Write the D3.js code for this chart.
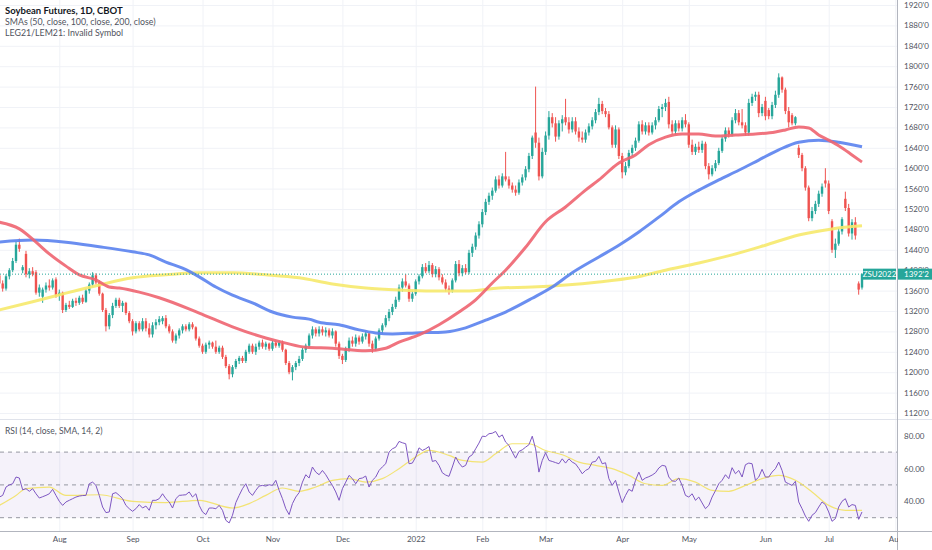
<!DOCTYPE html>
<html>
<head>
<meta charset="utf-8">
<script src="https://cdn.jsdelivr.net/npm/d3@7"></script>
<style>
  body { margin: 0; background: #fff; }
  svg { display: block; font-family: Lato, "Noto Sans", "DejaVu Sans", sans-serif; }
</style>
</head>
<body>
<svg width="932" height="550"></svg>
<script>
// Soybean Futures daily candles, SMA 50/100/200, RSI 14
// bar index 0 = first trading day of Aug 2021

var firstBar = -18;

var opens = [1390,1374,1364,1388,1400,1418,1450,1400,1432,1392,1398,1396,1356,1348,1362,1370,1366,1382,
  1350,1356,1322,1332,1328,1340,1336,1346,1338,1360,1372,1390,1376,1354,1322,1290,1312,1330,1342,1330,1336,1316,
  1300,1280,1296,1284,1300,1286,1274,1292,1298,1300,1306,1290,1280,1262,1272,1282,1290,1284,1294,1288,1266,
  1252,1240,1254,1258,1250,1240,1248,1230,1212,1196,1210,1222,1228,1222,1240,1252,1240,1250,1258,1250,1256,
  1246,1258,1252,1258,1244,1218,1200,1210,1218,1226,1244,1252,1272,1284,1276,1284,1278,1282,1272,1280,1256,
  1232,1224,1246,1262,1256,1268,1260,1270,1276,1256,1246,1266,1282,1292,1306,1318,1328,1342,1366,1378,1370,1344,
  1354,1378,1388,1406,1398,1410,1392,1402,1386,1376,1364,1360,1380,1412,1394,1404,1396,1434,1446,1468,
  1490,1514,1534,1546,1556,1578,1566,1584,1578,1566,1558,1552,1572,1582,1598,1624,1670,1650,1584,
  1632,1664,1700,1688,1662,1688,1700,1690,1676,1692,1672,1660,1656,1670,1682,1694,1710,1726,1712,1706,1680,1646,1676,1624,
  1592,1604,1630,1640,1654,1686,1672,1684,1670,1684,1694,1716,1720,1730,1686,1672,1688,1678,1694,1686,
  1646,1632,1642,1636,1648,1604,1588,1600,1610,1634,1658,1674,1666,1694,1708,1690,1684,1670,1728,1740,1744,
  1708,1732,1714,1702,1724,1744,1778,1754,1712,1704,1688,1640,1626,1600,1562,1502,1516,1530,1550,1576,
  1570,1496,1440,1452,1476,1540,1522,1472,1494,1374,1366];

var highs = [1395,1380,1392,1404,1424,1456,1462,1410,1438,1404,1406,1400,1372,1366,1376,1382,1384,1386,
  1362,1358,1336,1340,1344,1346,1350,1352,1364,1376,1396,1394,1380,1356,1326,1316,1336,1346,1346,1340,1338,1320,
  1304,1300,1300,1306,1306,1296,1298,1304,1310,1310,1312,1294,1284,1276,1286,1294,1294,1298,1298,1290,1270,
  1256,1258,1262,1260,1262,1252,1252,1234,1216,1214,1226,1232,1232,1244,1256,1256,1256,1262,1264,1260,1258,
  1262,1262,1262,1262,1246,1222,1214,1222,1232,1248,1256,1276,1290,1288,1290,1290,1288,1286,1286,1282,1260,
  1236,1250,1268,1270,1274,1272,1276,1280,1278,1262,1270,1286,1296,1312,1324,1334,1348,1372,1384,1392,1374,1360,
  1382,1392,1412,1414,1418,1414,1408,1406,1392,1382,1370,1384,1418,1420,1410,1412,1440,1452,1474,1496,
  1520,1540,1552,1562,1584,1586,1590,1632,1584,1572,1566,1578,1588,1604,1630,1664,1760,1660,1640,
  1672,1712,1708,1700,1694,1704,1736,1700,1700,1700,1680,1672,1676,1688,1700,1716,1738,1732,1718,1712,1684,1684,1680,1630,
  1612,1636,1646,1660,1692,1694,1690,1690,1690,1700,1722,1726,1736,1740,1694,1694,1694,1700,1706,1690,
  1656,1648,1652,1654,1652,1610,1606,1616,1640,1662,1680,1680,1700,1716,1714,1716,1690,1736,1746,1750,1750,
  1726,1740,1718,1730,1752,1786,1780,1758,1720,1708,1702,1646,1630,1604,1566,1524,1536,1556,1570,1600,
  1576,1500,1462,1482,1504,1554,1530,1500,1504,1378,1394];

var lows = [1370,1358,1360,1382,1396,1414,1436,1394,1386,1384,1388,1352,1348,1336,1356,1360,1362,1346,
  1340,1316,1318,1324,1326,1330,1332,1334,1336,1354,1368,1372,1350,1318,1280,1284,1306,1326,1326,1318,1312,1296,
  1272,1276,1280,1280,1280,1268,1268,1284,1292,1294,1286,1276,1258,1256,1266,1276,1280,1280,1284,1262,1248,
  1236,1236,1246,1246,1236,1236,1226,1208,1186,1190,1206,1216,1218,1218,1236,1236,1234,1244,1246,1244,1242,
  1242,1248,1248,1240,1214,1196,1184,1204,1212,1222,1238,1248,1266,1270,1270,1272,1270,1268,1266,1250,1226,
  1216,1220,1240,1250,1250,1254,1256,1264,1250,1238,1242,1262,1276,1288,1300,1312,1324,1338,1358,1366,1338,1338,
  1350,1372,1384,1394,1394,1386,1386,1380,1372,1358,1352,1356,1376,1388,1388,1392,1392,1426,1440,1462,
  1484,1508,1528,1538,1552,1560,1562,1574,1560,1552,1546,1548,1566,1576,1592,1618,1640,1576,1580,
  1626,1656,1680,1652,1656,1672,1684,1668,1670,1666,1652,1650,1650,1664,1676,1688,1704,1706,1700,1676,1640,1640,1618,1580,
  1586,1600,1624,1634,1650,1666,1666,1664,1666,1676,1690,1700,1712,1678,1666,1666,1672,1672,1680,1640,
  1626,1626,1630,1630,1598,1578,1584,1594,1606,1630,1652,1660,1662,1688,1684,1678,1664,1664,1722,1732,1700,
  1702,1694,1696,1696,1718,1738,1748,1706,1680,1684,1684,1620,1594,1556,1496,1496,1510,1524,1544,1562,
  1510,1434,1424,1448,1470,1516,1466,1460,1460,1352,1362];

var closes = [1374,1364,1388,1400,1418,1450,1442,1406,1392,1398,1392,1356,1366,1362,1370,1366,1380,1350,
  1356,1322,1332,1328,1340,1336,1346,1338,1360,1372,1390,1376,1354,1322,1290,1312,1330,1342,1330,1336,1316,1300,
  1280,1296,1284,1300,1286,1274,1292,1298,1304,1306,1290,1280,1262,1272,1282,1290,1284,1294,1288,1266,1252,
  1240,1254,1258,1250,1240,1248,1230,1212,1196,1210,1222,1228,1222,1240,1252,1240,1250,1258,1250,1256,1246,
  1258,1252,1258,1244,1218,1200,1210,1218,1226,1244,1252,1272,1284,1276,1284,1278,1282,1272,1280,1256,1232,
  1224,1246,1262,1256,1268,1260,1270,1276,1256,1246,1266,1282,1292,1306,1318,1328,1342,1366,1378,1370,1344,1354,
  1378,1388,1406,1398,1410,1392,1402,1386,1376,1364,1360,1380,1412,1394,1404,1396,1434,1446,1468,1490,
  1514,1534,1546,1556,1578,1566,1584,1578,1566,1558,1552,1572,1582,1598,1624,1660,1650,1584,1632,
  1664,1700,1688,1662,1688,1696,1690,1676,1692,1672,1660,1656,1670,1682,1694,1710,1726,1712,1706,1680,1646,1676,1624,1592,
  1604,1630,1640,1654,1686,1672,1684,1670,1684,1694,1716,1720,1728,1686,1672,1688,1678,1694,1686,1646,
  1632,1642,1636,1648,1604,1588,1600,1610,1634,1658,1674,1666,1694,1708,1690,1684,1670,1728,1740,1744,1708,
  1720,1702,1702,1724,1744,1778,1754,1712,1690,1688,1700,1626,1600,1562,1502,1516,1530,1550,1564,1570,
  1516,1440,1452,1476,1500,1522,1472,1494,1468,1362,1392.25];

var rsi = [42.6,43.6,48.7,50.0,50.7,54.8,54.2,47.0,47.7,46.1,47.7,44.6,42.0,42.8,43.6,44.6,47.3,43.6,
  40.0,37.5,39.6,40.6,41.6,42.6,43.2,43.5,43.6,50.7,51.7,49.7,43.6,36.5,33.1,33.5,44.6,45.3,43.6,41.6,37.5,35.5,
  33.9,35.5,38.0,35.9,37.1,34.5,40.6,40.6,41.6,44.6,41.6,39.6,35.9,41.6,43.6,43.8,44.0,45.7,42.6,44.6,37.5,
  33.5,31.9,35.9,35.9,35.5,37.5,34.5,28.4,26.8,31.5,39.2,43.6,47.7,50.7,45.7,43.6,46.7,49.3,49.7,49.3,50.1,
  49.7,52.8,46.7,41.6,35.5,31.9,38.6,42.6,45.3,51.7,56.2,54.2,60.9,57.8,56.2,58.8,56.2,52.8,49.7,45.7,40.6,
  47.7,51.7,55.8,53.8,50.7,53.8,54.2,55.4,48.7,52.8,54.8,58.8,61.0,62.9,70.0,72.0,73.0,76.5,75.7,75.1,62.9,63.3,
  67.0,72.6,71.0,72.0,73.4,64.3,64.9,61.9,57.4,56.0,55.2,60.9,67.0,63.3,60.9,61.9,67.0,68.4,72.0,75.5,
  79.7,79.5,81.2,81.5,82.6,79.1,80.5,76.1,74.1,70.0,66.3,70.4,71.4,73.0,74.5,79.7,72.0,57.8,64.9,
  69.6,64.9,64.3,63.6,62.9,65.9,63.3,65.9,63.9,62.8,60.0,56.8,58.8,59.9,63.9,64.3,67.4,62.9,63.5,53.8,49.7,52.8,45.7,39.2,
  43.6,47.3,46.1,52.8,57.8,52.8,54.2,55.0,56.0,57.4,60.3,61.9,61.5,54.8,52.4,52.2,54.2,49.7,43.6,42.6,
  44.6,40.6,42.6,39.0,35.5,37.5,42.6,46.5,50.7,52.8,56.2,53.8,60.5,56.8,58.8,54.8,62.3,63.3,62.9,52.8,54.8,
  59.5,54.8,54.8,57.8,59.9,63.9,58.8,51.7,50.7,49.7,52.2,39.6,35.5,31.0,27.8,31.5,33.1,36.5,39.6,38.0,
  33.5,27.8,29.4,36.5,40.0,41.6,36.5,38.0,37.5,29.0,33.5];

// moving averages (bar index, value)
var sma50Bars = [-18,-12,-7,-3,2,6,11,15,18,24,30,42,52,62,68,74,82,92,98,102,108,114,120,125,130,134,140,
  146,152,158,162,168,173,177,182,187,192,197,203,209,215,218,222,225,228,231,234,238,241];
var sma50 = [1494,1481,1455,1432,1408,1391,1381,1367,1365,1357,1346,1316,1289,1267,1257,1249,1247,1242,1247,
  1259,1273,1293,1318,1342,1375,1400,1445,1495,1524,1557,1577,1610,1626,1646,1661,1667,1667,1663,1665,1667,
  1671,1675,1681,1679,1665,1655,1644,1626,1612];

var sma100Bars = [-18,-8,2,12,22,27,32,37,42,47,52,58,64,70,75,78,84,90,95,100,107,116,122,128,134,142,148,
  154,162,168,174,180,186,192,198,204,210,216,222,228,234,241];
var sma100 = [1455,1459,1455,1446,1436,1430,1416,1404,1387,1367,1351,1336,1318,1308,1304,1298,1293,1283,1277,
  1275,1277,1279,1287,1302,1318,1345,1367,1395,1426,1449,1475,1504,1534,1557,1577,1596,1616,1636,1651,1655,
  1651,1642];

var sma200Bars = [-18,-8,2,12,22,32,42,52,62,72,82,92,102,112,122,132,142,152,162,172,182,192,202,212,222,232,241];
var sma200 = [1322,1338,1355,1371,1385,1391,1395,1395,1391,1385,1373,1365,1361,1359,1359,1365,1367,1371,1377,
  1385,1400,1414,1430,1449,1469,1481,1487];

var rsiMaBars = [-18,-13,-10,-3,2,12,22,32,42,52,57,62,67,72,77,82,87,92,97,102,107,111,117,121,127,131,136,
  141,146,151,156,161,166,171,176,181,186,191,196,201,206,211,216,221,226,231,236,241];
var rsiMa = [37.5,43.6,47.7,48.7,43.6,44.0,40.0,39.2,40.6,35.9,38.6,43.6,48.1,46.1,48.7,52.8,53.8,51.7,53.8,
  59.9,67.0,71.0,68.0,64.9,63.9,69.0,75.1,75.1,71.0,68.4,63.9,61.9,59.9,55.8,50.7,49.7,53.8,51.7,46.7,46.1,
  49.7,53.8,55.8,52.8,45.7,37.5,34.5,34.5];

var monthLabels = ["Aug", "Sep", "Oct", "Nov", "Dec", "2022", "Feb", "Mar", "Apr", "May", "Jun", "Jul", "Aug"];
var monthBars = [0, 22, 43, 64, 85, 107, 127, 146, 169, 189, 212, 231, 251];

var priceTicks = [1120, 1160, 1200, 1240, 1280, 1320, 1360, 1400, 1440, 1480, 1520, 1560, 1600, 1640,
  1680, 1720, 1760, 1800, 1840, 1880, 1920];
var rsiTicks = [40, 60, 80];
var rsiLevels = [30, 50, 70];

var lastPrice = 1392.25;
var lastSymbol = "ZSU2022";
var lastPriceText = "1392'2";

var bars = closes.map(function(c, k) {
  return {i: firstBar + k, o: opens[k], h: highs[k], l: lows[k], c: c};
});

var svg = d3.select("svg");
var plotRight = 897;
var font = "Lato, 'Noto Sans', 'DejaVu Sans', sans-serif";

var xScale = d3.scaleLinear().domain([0, 231]).range([59.3, 828.7]);
var yScale = d3.scaleLinear().domain([1120, 1920]).range([413, 5]);
var rsiScale = d3.scaleLinear().domain([30, 80]).range([517.7, 435.7]);

var defs = svg.append("defs");
defs.append("clipPath").attr("id", "clipPrice")
  .append("rect").attr("x", 0).attr("y", 0).attr("width", plotRight).attr("height", 419);
defs.append("clipPath").attr("id", "clipRsi")
  .append("rect").attr("x", 0).attr("y", 420).attr("width", plotRight).attr("height", 111);
defs.append("clipPath").attr("id", "clipTime")
  .append("rect").attr("x", 0).attr("y", 531).attr("width", plotRight + 1).attr("height", 19);

// grid
var hGrid = d3.axisRight(yScale).tickValues(priceTicks).tickSize(plotRight).tickFormat("");
svg.append("g").attr("class", "grid").call(hGrid);

var vGrid = d3.axisBottom(xScale).tickValues(monthBars).tickSize(531).tickFormat("");
svg.append("g").attr("class", "grid").attr("clip-path", "url(#clipPrice)").call(vGrid);
svg.append("g").attr("class", "grid").attr("clip-path", "url(#clipRsi)").call(vGrid);
svg.selectAll("g.grid .domain").remove();
svg.selectAll("g.grid line").attr("stroke", "#f0f2f7").attr("stroke-width", 1);

// candles
var price = svg.append("g").attr("clip-path", "url(#clipPrice)");

price.selectAll("line.wick")
  .data(bars)
  .enter()
  .append("line")
  .attr("class", "wick")
  .attr("x1", function(d) { return xScale(d.i); })
  .attr("x2", function(d) { return xScale(d.i); })
  .attr("y1", function(d) { return yScale(d.h); })
  .attr("y2", function(d) { return yScale(d.l); })
  .attr("stroke", function(d) { return d.c >= d.o ? "#26a69a" : "#ef5350"; })
  .attr("stroke-width", 1);

price.selectAll("rect.body")
  .data(bars)
  .enter()
  .append("rect")
  .attr("class", "body")
  .attr("x", function(d) { return xScale(d.i) - 1.2; })
  .attr("width", 2.4)
  .attr("y", function(d) { return yScale(Math.max(d.o, d.c)); })
  .attr("height", function(d) { return Math.max(1, Math.abs(yScale(d.o) - yScale(d.c))); })
  .attr("fill", function(d) { return d.c >= d.o ? "#26a69a" : "#ef5350"; });

// moving averages
function smaLine(idx, vals, color) {
  var pts = idx.map(function(b, k) { return [b, vals[k]]; });
  var line = d3.line()
    .x(function(d) { return xScale(d[0]); })
    .y(function(d) { return yScale(d[1]); })
    .curve(d3.curveMonotoneX);
  price.append("path")
    .attr("d", line(pts))
    .attr("fill", "none")
    .attr("stroke", color)
    .attr("stroke-width", 3)
    .attr("stroke-opacity", 0.9);
}
smaLine(sma200Bars, sma200, "#f6e96c");
smaLine(sma100Bars, sma100, "#5a82ee");
smaLine(sma50Bars, sma50, "#ee6470");

// last price dotted line
price.append("line")
  .attr("x1", 0).attr("x2", plotRight)
  .attr("y1", yScale(lastPrice)).attr("y2", yScale(lastPrice))
  .attr("stroke", "#26a69a")
  .attr("stroke-width", 1)
  .attr("stroke-dasharray", "1,2");

// RSI pane
var rsiG = svg.append("g").attr("clip-path", "url(#clipRsi)");

rsiG.append("rect")
  .attr("x", 0).attr("width", plotRight)
  .attr("y", rsiScale(70)).attr("height", rsiScale(30) - rsiScale(70))
  .attr("fill", "#7e57c2").attr("fill-opacity", 0.08);

rsiG.selectAll("line.level")
  .data(rsiLevels)
  .enter()
  .append("line")
  .attr("class", "level")
  .attr("x1", 0).attr("x2", plotRight)
  .attr("y1", function(d) { return rsiScale(d); })
  .attr("y2", function(d) { return rsiScale(d); })
  .attr("stroke", "#9598a1")
  .attr("stroke-width", 1)
  .attr("stroke-dasharray", "4,4");

var rsiMaPts = rsiMaBars.map(function(b, k) { return [b, rsiMa[k]]; });
rsiG.append("path")
  .attr("d", d3.line()
    .x(function(d) { return xScale(d[0]); })
    .y(function(d) { return rsiScale(d[1]); })
    .curve(d3.curveMonotoneX)(rsiMaPts))
  .attr("fill", "none")
  .attr("stroke", "#f2e05c")
  .attr("stroke-width", 1.2)
  .attr("stroke-opacity", 0.85);

var rsiLine = d3.line()
  .x(function(d, k) { return xScale(firstBar + k); })
  .y(function(d) { return rsiScale(d); });
rsiG.append("path")
  .attr("d", rsiLine(rsi))
  .attr("fill", "none")
  .attr("stroke", "#7e57c2")
  .attr("stroke-width", 1);

// pane borders
svg.append("line").attr("x1", 0).attr("x2", 932).attr("y1", 419.5).attr("y2", 419.5)
  .attr("stroke", "#e0e3eb");
svg.append("line").attr("x1", 0).attr("x2", 932).attr("y1", 531.5).attr("y2", 531.5)
  .attr("stroke", "#b2b5be");
svg.append("line").attr("x1", plotRight + 0.5).attr("x2", plotRight + 0.5).attr("y1", 0).attr("y2", 550)
  .attr("stroke", "#b2b5be");

// price axis
var yAxis = d3.axisRight(yScale)
  .tickValues(priceTicks)
  .tickSize(0)
  .tickPadding(0)
  .tickFormat(function(d) { return d + "'0"; });
var yAxisG = svg.append("g").attr("transform", "translate(" + (plotRight + 7) + ",0)").call(yAxis);

var rsiAxis = d3.axisRight(rsiScale)
  .tickValues(rsiTicks)
  .tickSize(0)
  .tickPadding(0)
  .tickFormat(function(d) { return d.toFixed(2); });
var rsiAxisG = svg.append("g").attr("transform", "translate(" + (plotRight + 7) + ",0)").call(rsiAxis);

// time axis
var xAxis = d3.axisBottom(xScale)
  .tickValues(monthBars)
  .tickSize(0)
  .tickPadding(5)
  .tickFormat(function(d, k) { return monthLabels[k]; });
var xAxisG = svg.append("g").attr("clip-path", "url(#clipTime)")
  .append("g").attr("transform", "translate(0,531)").call(xAxis);

[yAxisG, rsiAxisG, xAxisG].forEach(function(g) {
  g.select(".domain").remove();
  g.selectAll("text")
    .attr("fill", "#50535e")
    .attr("font-size", 8)
    .attr("font-family", font);
});

// last price labels
svg.append("rect")
  .attr("x", xScale(241) + 1).attr("y", yScale(lastPrice) - 5.5)
  .attr("width", plotRight - xScale(241) - 2).attr("height", 11)
  .attr("fill", "#26a69a");
svg.append("text")
  .attr("x", (xScale(241) + plotRight) / 2).attr("y", yScale(lastPrice))
  .attr("dy", "0.35em").attr("text-anchor", "middle")
  .attr("fill", "#fff").attr("font-size", 8)
  .text(lastSymbol);
svg.append("rect")
  .attr("x", plotRight + 1).attr("y", yScale(lastPrice) - 5.5)
  .attr("width", 932 - plotRight - 1).attr("height", 11)
  .attr("fill", "#26a69a");
svg.append("text")
  .attr("x", plotRight + 7).attr("y", yScale(lastPrice))
  .attr("dy", "0.35em")
  .attr("fill", "#fff").attr("font-size", 8)
  .text(lastPriceText);

// legends
var legend = [
  {t: "Soybean Futures, 1D, CBOT", y: 11, s: 9.5, w: 700, c: "#131722"},
  {t: "SMAs (50, close, 100, close, 200, close)", y: 22, s: 8.8, w: 400, c: "#50535e"},
  {t: "LEG21/LEM21: Invalid Symbol", y: 33, s: 8.8, w: 400, c: "#50535e"},
  {t: "RSI (14, close, SMA, 14, 2)", y: 431, s: 8.5, w: 400, c: "#50535e"}
];
svg.selectAll("text.legend")
  .data(legend)
  .enter()
  .append("text")
  .attr("class", "legend")
  .attr("x", 5)
  .attr("y", function(d) { return d.y; })
  .attr("dy", "0.35em")
  .attr("font-size", function(d) { return d.s; })
  .attr("font-weight", function(d) { return d.w; })
  .attr("fill", function(d) { return d.c; })
  .text(function(d) { return d.t; });
</script>
</body>
</html>
